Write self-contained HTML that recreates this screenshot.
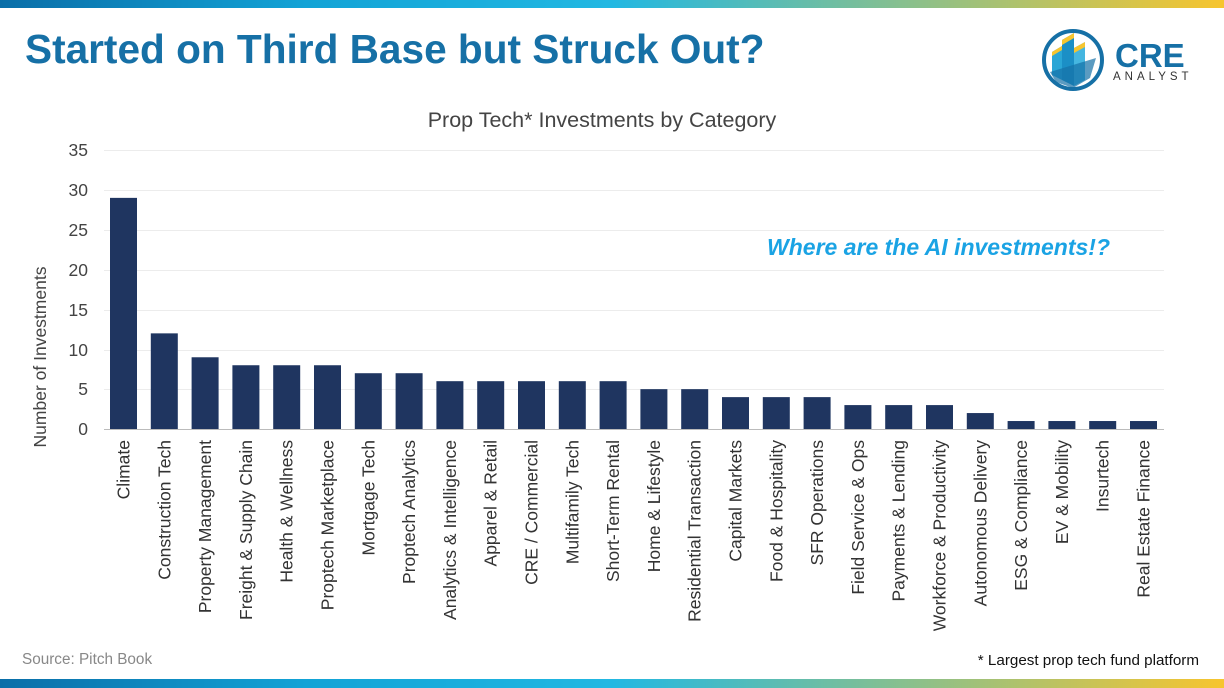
<!DOCTYPE html>
<html><head><meta charset="utf-8"><style>
html,body{margin:0;padding:0;background:#fff;}
svg{display:block;}
text{font-family:"Liberation Sans",Arial,sans-serif;}
</style></head><body>
<svg width="1224" height="688" viewBox="0 0 1224 688" xmlns="http://www.w3.org/2000/svg">
<defs>
<linearGradient id="g" x1="0" x2="1" y1="0" y2="0">
<stop offset="0" stop-color="#0a6ea8"/>
<stop offset="0.25" stop-color="#12a3d6"/>
<stop offset="0.5" stop-color="#22b8e2"/>
<stop offset="0.75" stop-color="#8cc08a"/>
<stop offset="1" stop-color="#f7c52e"/>
</linearGradient>
</defs>
<rect x="0" y="0" width="1224" height="8" fill="url(#g)"/>
<rect x="0" y="679" width="1224" height="9" fill="url(#g)"/>
<text x="25" y="63" font-size="40.6" font-weight="bold" fill="#1670a6">Started on Third Base but Struck Out?</text>
<g>
<circle cx="1073" cy="60" r="29" fill="#fff" stroke="#1670a6" stroke-width="4"/>
<polygon points="1052,75 1052,52 1062,46 1062,80" fill="#2aa6d6"/>
<polygon points="1062,80 1062,40 1074,33 1074,86" fill="#1b8fc6"/>
<polygon points="1074,86 1074,48 1085,42 1085,80" fill="#45b6e0"/>
<polygon points="1052,52 1062,46 1062,50 1052,56" fill="#f7c52e"/>
<polygon points="1062,40 1074,33 1074,38 1062,45" fill="#f7c52e"/>
<polygon points="1074,48 1085,42 1085,47 1074,53" fill="#f7c52e"/>
<polygon points="1050,72 1096,58 1090,78 1073,88 1056,82" fill="#1670a6" opacity="0.7"/>
</g>
<text x="1115" y="67" font-size="33" font-weight="bold" fill="#1670a6">CRE</text>
<text x="1113" y="80" font-size="11.5" fill="#333" letter-spacing="4">ANALYST</text>
<text x="602" y="127" font-size="21.5" fill="#444" text-anchor="middle">Prop Tech* Investments by Category</text>
<g stroke="#ececec" stroke-width="1">
<line x1="104" x2="1164" y1="150.5" y2="150.5"/>
<line x1="104" x2="1164" y1="190.5" y2="190.5"/>
<line x1="104" x2="1164" y1="230.5" y2="230.5"/>
<line x1="104" x2="1164" y1="270.5" y2="270.5"/>
<line x1="104" x2="1164" y1="310.5" y2="310.5"/>
<line x1="104" x2="1164" y1="350.5" y2="350.5"/>
<line x1="104" x2="1164" y1="389.5" y2="389.5"/>
</g>
<line x1="104" x2="1164" y1="429.5" y2="429.5" stroke="#bbb" stroke-width="1"/>
<g font-size="17.5" fill="#444" text-anchor="end">
<text x="88" y="156">35</text><text x="88" y="196">30</text><text x="88" y="236">25</text>
<text x="88" y="276">20</text><text x="88" y="316">15</text><text x="88" y="356">10</text>
<text x="88" y="395">5</text><text x="88" y="435">0</text>
</g>
<text transform="translate(46,357) rotate(-90)" font-size="17.5" fill="#444" text-anchor="middle">Number of Investments</text>
<text x="1110" y="255" font-size="23" font-weight="bold" font-style="italic" fill="#1aa3e4" text-anchor="end">Where are the AI investments!?</text>
<g id="bars" fill="#1f3560"></g>
<g id="labels" font-size="17.5" fill="#333" text-anchor="end"></g>
<text x="22" y="664" font-size="15.3" fill="#888">Source: Pitch Book</text>
<text x="1199" y="665" font-size="15.2" fill="#111" text-anchor="end">* Largest prop tech fund platform</text>
<script>
var d=[["Climate",29],["Construction Tech",12],["Property Management",9],["Freight & Supply Chain",8],["Health & Wellness",8],["Proptech Marketplace",8],["Mortgage Tech",7],["Proptech Analytics",7],["Analytics & Intelligence",6],["Apparel & Retail",6],["CRE / Commercial",6],["Multifamily Tech",6],["Short-Term Rental",6],["Home & Lifestyle",5],["Residential Transaction",5],["Capital Markets",4],["Food & Hospitality",4],["SFR Operations",4],["Field Service & Ops",3],["Payments & Lending",3],["Workforce & Productivity",3],["Autonomous Delivery",2],["ESG & Compliance",1],["EV & Mobility",1],["Insurtech",1],["Real Estate Finance",1]];
var ns="http://www.w3.org/2000/svg",b=document.getElementById("bars"),l=document.getElementById("labels");
d.forEach(function(e,i){var c=123.5+i*40.8,h=e[1]*7.97;
var r=document.createElementNS(ns,"rect");r.setAttribute("x",c-13.5);r.setAttribute("y",429-h);r.setAttribute("width",27);r.setAttribute("height",h);b.appendChild(r);
var t=document.createElementNS(ns,"text");t.setAttribute("transform","translate("+(c+6)+",440) rotate(-90)");t.textContent=e[0];l.appendChild(t);});
</script>
</svg>
</body></html>
